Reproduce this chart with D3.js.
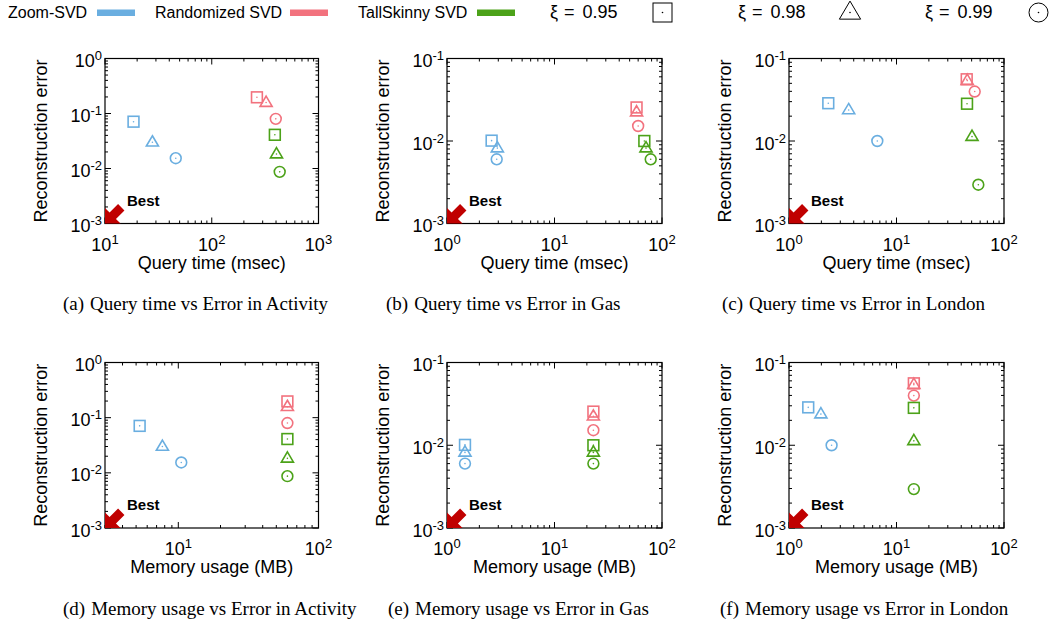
<!DOCTYPE html>
<html>
<head>
<meta charset="utf-8">
<script src="https://cdn.jsdelivr.net/npm/d3@7/dist/d3.min.js"></script>
<style>
  body { margin: 0; background: #fff; }
  svg text { font-family: "Liberation Sans", Arial, Helvetica, sans-serif; fill: #000; }
</style>
</head>
<body>
<div id="chart"></div>
<script>
// ---- data ----
const methods = ["Zoom-SVD", "Randomized SVD", "TallSkinny SVD"];
const xiLabels = ["0.95", "0.98", "0.99"];
const colors = ["#6aaee0", "#f2727e", "#4ca219"];

// Activity
const actErrZoom = [0.071, 0.030, 0.0154];
const actErrRand = [0.197, 0.158, 0.080];
const actErrTall = [0.041, 0.0183, 0.0087];
const actQueryZoom = [18.5, 27.8, 46];
const actQueryRand = [265, 323, 398];
const actQueryTall = [390, 404, 433];
const actMemZoom = [5.3, 7.7, 10.5];
const actMemRand = [60, 60, 60];
const actMemTall = [60, 60, 60];

// Gas
const gasErrZoom = [0.0101, 0.0082, 0.0060];
const gasErrRand = [0.0255, 0.0224, 0.0152];
const gasErrTall = [0.0100, 0.0082, 0.0060];
const gasQueryZoom = [2.6, 2.94, 2.9];
const gasQueryRand = [58, 58, 60];
const gasQueryTall = [68.5, 71, 78.5];
const gasMemZoom = [1.47, 1.47, 1.47];
const gasMemRand = [23, 23, 23];
const gasMemTall = [23, 23, 23];

// London
const lonErrZoom = [0.0287, 0.0238, 0.0100];
const lonErrRand = [0.056, 0.054, 0.0398];
const lonErrTall = [0.0283, 0.0113, 0.00295];
const lonQueryZoom = [2.32, 3.59, 6.63];
const lonQueryRand = [45, 45.5, 53.4];
const lonQueryTall = [45.3, 50.4, 57.7];
const lonMemZoom = [1.51, 1.98, 2.49];
const lonMemRand = [14.5, 14.5, 14.5];
const lonMemTall = [14.5, 14.5, 14.5];

const W = 1057, H = 624;
const cols = [[105, 318.5], [447, 662], [789, 1004]];
const rows = [[58.5, 223.5], [362.5, 528]];

const panels = [
  { col: 0, row: 0, xDomain: [10, 1000], yDomain: [1e-3, 1], xLabel: "Query time (msec)",
    tag: "(a)", caption: "Query time vs Error in Activity", capX: 63,
    xs: [actQueryZoom, actQueryRand, actQueryTall], ys: [actErrZoom, actErrRand, actErrTall] },
  { col: 1, row: 0, xDomain: [1, 100], yDomain: [1e-3, 1e-1], xLabel: "Query time (msec)",
    tag: "(b)", caption: "Query time vs Error in Gas", capX: 386,
    xs: [gasQueryZoom, gasQueryRand, gasQueryTall], ys: [gasErrZoom, gasErrRand, gasErrTall] },
  { col: 2, row: 0, xDomain: [1, 100], yDomain: [1e-3, 1e-1], xLabel: "Query time (msec)",
    tag: "(c)", caption: "Query time vs Error in London", capX: 722,
    xs: [lonQueryZoom, lonQueryRand, lonQueryTall], ys: [lonErrZoom, lonErrRand, lonErrTall] },
  { col: 0, row: 1, xDomain: [3, 100], yDomain: [1e-3, 1], xLabel: "Memory usage (MB)",
    tag: "(d)", caption: "Memory usage vs Error in Activity", capX: 63,
    xs: [actMemZoom, actMemRand, actMemTall], ys: [actErrZoom, actErrRand, actErrTall] },
  { col: 1, row: 1, xDomain: [1, 100], yDomain: [1e-3, 1e-1], xLabel: "Memory usage (MB)",
    tag: "(e)", caption: "Memory usage vs Error in Gas", capX: 388,
    xs: [gasMemZoom, gasMemRand, gasMemTall], ys: [gasErrZoom, gasErrRand, gasErrTall] },
  { col: 2, row: 1, xDomain: [1, 100], yDomain: [1e-3, 1e-1], xLabel: "Memory usage (MB)",
    tag: "(f)", caption: "Memory usage vs Error in London", capX: 720,
    xs: [lonMemZoom, lonMemRand, lonMemTall], ys: [lonErrZoom, lonErrRand, lonErrTall] }
];

const svg = d3.select("#chart").append("svg")
  .attr("width", W).attr("height", H);

const isMajor = t => Math.abs(Math.log10(t) - Math.round(Math.log10(t))) < 1e-6;

// the three point types used for xi = 0.95, 0.98, 0.99
function drawSymbol(g, type, cx, cy, color, s, sw) {
  const sym = g.append("g").attr("transform", `translate(${cx},${cy})`);
  if (type === 0) {
    sym.append("rect").attr("x", -s).attr("y", -s).attr("width", 2 * s).attr("height", 2 * s);
  } else if (type === 1) {
    sym.append("path").attr("d", `M0,${-s * 1.2}L${s * 1.12},${s * 0.7}L${-s * 1.12},${s * 0.7}Z`);
  } else {
    sym.append("circle").attr("r", s);
  }
  sym.selectAll("rect,path,circle")
    .attr("fill", "none").attr("stroke", color).attr("stroke-width", sw);
  sym.append("circle").attr("r", 0.8).attr("fill", color);
}

function sup10(sel, t) {
  const e = Math.round(Math.log10(t));
  sel.append("tspan").text("10");
  sel.append("tspan").attr("font-size", 13).attr("dy", -7).text(e);
}

panels.forEach(p => {
  const [left, right] = cols[p.col];
  const [top, bottom] = rows[p.row];
  const x = d3.scaleLog().domain(p.xDomain).range([left, right]);
  const y = d3.scaleLog().domain(p.yDomain).range([bottom, top]);
  const g = svg.append("g");

  // ticks on all four sides, pointing inwards
  x.ticks().forEach(t => {
    const len = isMajor(t) ? 6 : 3;
    g.append("line").attr("x1", x(t)).attr("x2", x(t)).attr("y1", bottom).attr("y2", bottom - len);
    g.append("line").attr("x1", x(t)).attr("x2", x(t)).attr("y1", top).attr("y2", top + len);
  });
  y.ticks().forEach(t => {
    const len = isMajor(t) ? 6 : 3;
    g.append("line").attr("y1", y(t)).attr("y2", y(t)).attr("x1", left).attr("x2", left + len);
    g.append("line").attr("y1", y(t)).attr("y2", y(t)).attr("x1", right).attr("x2", right - len);
  });
  g.selectAll("line").attr("stroke", "#000").attr("stroke-width", 1);

  // tick labels
  x.ticks().filter(isMajor).forEach(t => {
    const tx = g.append("text").attr("x", x(t)).attr("y", bottom + 27)
      .attr("text-anchor", "middle").attr("font-size", 18);
    sup10(tx, t);
  });
  y.ticks().filter(isMajor).forEach(t => {
    const ty = g.append("text").attr("x", left - 3).attr("y", y(t) + 8.5)
      .attr("text-anchor", "end").attr("font-size", 18);
    sup10(ty, t);
  });

  // frame
  g.append("rect").attr("x", left).attr("y", top)
    .attr("width", right - left).attr("height", bottom - top)
    .attr("fill", "none").attr("stroke", "#000").attr("stroke-width", 1.2);

  // axis titles
  g.append("text").attr("x", (left + right) / 2).attr("y", bottom + 45)
    .attr("text-anchor", "middle").attr("font-size", 18).text(p.xLabel);
  g.append("text")
    .attr("transform", `translate(${left - 58},${(top + bottom) / 2}) rotate(-90)`)
    .attr("text-anchor", "middle").attr("font-size", 18).text("Reconstruction error");

  // "Best" arrow in the lower left corner
  const cx0 = x(p.xDomain[0]), cy0 = y(p.yDomain[0]);
  const arrow = [[0, 0], [11, -11], [11, -4.5], [23, -4.5], [23, 4.5], [11, 4.5], [11, 11]];
  g.append("polygon")
    .attr("points", arrow.map(d => d.join(",")).join(" "))
    .attr("transform", `translate(${cx0},${cy0}) rotate(-45)`)
    .attr("fill", "#c00000");
  g.append("text").attr("x", cx0 + 22).attr("y", cy0 - 18)
    .attr("font-family", "Lato, 'Open Sans', sans-serif").attr("font-weight", "bold")
    .attr("font-size", 15).text("Best");

  // points
  p.xs.forEach((xsArr, i) => {
    xsArr.forEach((v, j) => {
      drawSymbol(g, j, x(v), y(p.ys[i][j]), colors[i], 5.4, 1.6);
    });
  });

  // caption
  const cap = svg.append("text").attr("x", p.capX).attr("y", p.row === 0 ? 310 : 615)
    .style("font-family", "'Liberation Serif', 'Times New Roman', serif")
    .attr("font-size", 19);
  cap.append("tspan").text(p.tag);
  cap.append("tspan").attr("dx", 6).text(p.caption);
});

// ---- legend ----
const legMethodX = [8, 155, 358];
const legSwatchX = [97, 290, 477];
methods.forEach((m, i) => {
  svg.append("text").attr("x", legMethodX[i]).attr("y", 18).attr("font-size", 16).text(m);
  svg.append("rect").attr("x", legSwatchX[i]).attr("y", 9.5)
    .attr("width", 38).attr("height", 6.5).attr("fill", colors[i]);
});
const legXiX = [550, 738, 925];
const legSymX = [662.5, 850, 1038.5];
xiLabels.forEach((v, j) => {
  const t = svg.append("text").attr("x", legXiX[j]).attr("y", 18).attr("font-size", 18);
  t.append("tspan").text("ξ");
  t.append("tspan").attr("dx", 6).text("=");
  t.append("tspan").attr("dx", 8).text(v);
  drawSymbol(svg, j, legSymX[j], 12.5, "#000", 9.5, 1);
});
</script>
</body>
</html>
